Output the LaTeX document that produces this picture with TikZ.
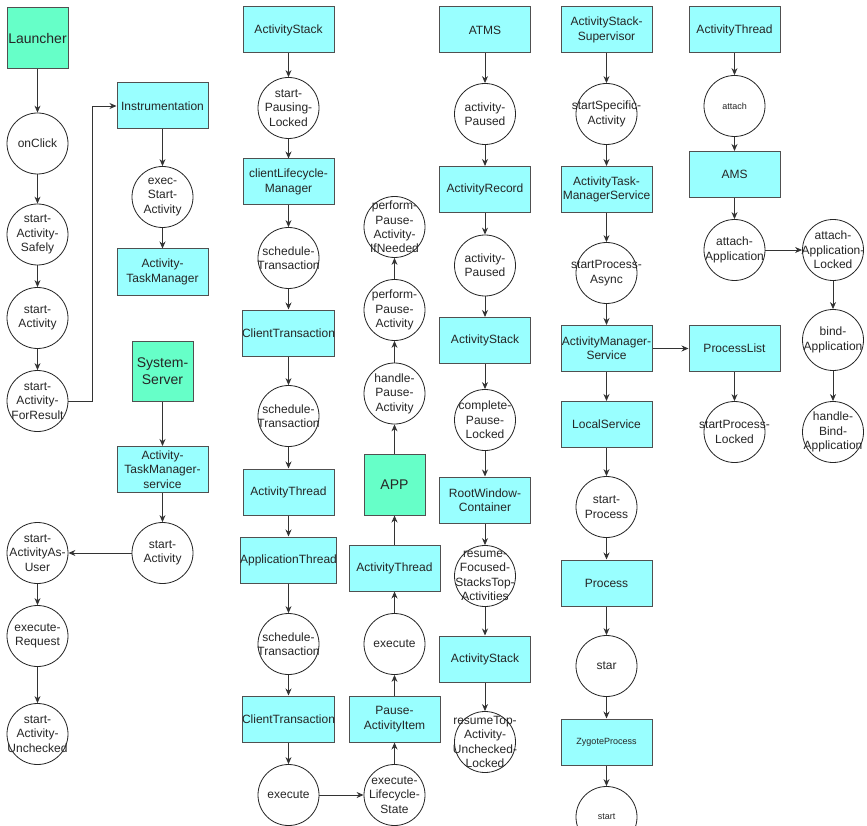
\documentclass[tikz,border=0pt]{standalone}
\usepackage{fontspec}
\setmainfont{Liberation Sans}
\usetikzlibrary{arrows.meta}
\definecolor{cyanfill}{RGB}{153,255,255}
\definecolor{greenfill}{RGB}{102,255,200}
\definecolor{boxline}{RGB}{80,80,80}
\newcommand\cnode[3]{\node[circ] (#1) at (#2) {};\node[ctext] at (#1.center) {#3};}
\newcommand\cnodesmall[3]{\node[circ] (#1) at (#2) {};\node[ctext,font=\fontsize{9}{10.8}\selectfont] at (#1.center) {#3};}
\begin{document}
\begin{tikzpicture}[x=1pt,y=-1pt,
 box/.style={draw=boxline, fill=cyanfill, line width=1pt, minimum width=91pt, minimum height=46pt, inner sep=0pt, align=center, font=\fontsize{12}{14.4}\selectfont, text=black!85},
 gbox/.style={box, fill=greenfill, minimum width=61pt, minimum height=61pt, font=\fontsize{14}{16.8}\selectfont},
 circ/.style={draw=black!85, fill=white, circle, minimum size=61pt, inner sep=0pt, line width=0.8pt},
 ctext/.style={align=center, font=\fontsize{12}{14.4}\selectfont, text=black!85, inner sep=0pt},
 arr/.style={draw=black!80, line width=0.9pt, -{Stealth[length=7pt,width=6pt]}},
]
\clip (0,0) rectangle (867,826);
\useasboundingbox (0,0) rectangle (867,826);
\fill[white] (0,0) rectangle (867,826);

% column 1/2
\node[gbox] (launcher) at (37.5,38) {Launcher};
\cnode{onclick}{37.5,143.5}{onClick}
\cnode{sas}{37.5,234.5}{start-\\Activity-\\Safely}
\cnode{sa}{37.5,318}{start-\\Activity}
\cnode{sfr}{37.5,401}{start-\\Activity-\\ForResult}
\node[box] (instr) at (162.5,106) {Instrumentation};
\cnode{esa}{162.5,197}{exec-\\Start-\\Activity}
\node[box] (atm) at (162.5,272) {Activity-\\TaskManager};
\node[gbox, minimum height=60pt] (ss) at (162.5,371) {System-\\Server};
\node[box] (atms1) at (162.5,469.5) {Activity-\\TaskManager-\\service};
\cnode{sa2}{162.5,553}{start-\\Activity}
\cnode{saau}{37.5,553}{start-\\ActivityAs-\\User}
\cnode{er}{37.5,636}{execute-\\Request}
\cnode{sau}{37.5,734}{start-\\Activity-\\Unchecked}

\draw[arr] (launcher) -- (onclick);
\draw[arr] (onclick) -- (sas);
\draw[arr] (sas) -- (sa);
\draw[arr] (sa) -- (sfr);
\coordinate (bend) at (92,401);
\draw[arr] (sfr.east) -- (bend) |- (instr.west);
\draw[arr] (instr) -- (esa);
\draw[arr] (esa) -- (atm);
\draw[arr] (ss) -- (atms1);
\draw[arr] (atms1) -- (sa2);
\draw[arr] (sa2) -- (saau);
\draw[arr] (saau) -- (er);
\draw[arr] (er) -- (sau);

% column 3
\node[box] (as1) at (288.5,30) {ActivityStack};
\cnode{spl}{288.5,108}{start-\\Pausing-\\Locked}
\node[box] (clm) at (288.5,182) {clientLifecycle-\\Manager};
\cnode{st1}{288.5,258}{schedule-\\Transaction}
\node[box] (ct1) at (288.5,333) {ClientTransaction};
\cnode{st2}{288.5,416}{schedule-\\Transaction}
\node[box] (at1) at (288.5,492) {ActivityThread};
\node[box] (apt) at (288.5,560) {ApplicationThread};
\cnode{st3}{288.5,644}{schedule-\\Transaction}
\node[box] (ct2) at (288.5,719) {ClientTransaction};
\cnode{ex1}{288.5,795}{execute}

\draw[arr] (as1) -- (spl);
\draw[arr] (spl) -- (clm);
\draw[arr] (clm) -- (st1);
\draw[arr] (st1) -- (ct1);
\draw[arr] (ct1) -- (st2);
\draw[arr] (st2) -- (at1);
\draw[arr] (at1) -- (apt);
\draw[arr] (apt) -- (st3);
\draw[arr] (st3) -- (ct2);
\draw[arr] (ct2) -- (ex1);

% column 4
\cnode{els}{394.5,795}{execute-\\Lifecycle-\\State}
\node[box] (pai) at (394.5,719) {Pause-\\ActivityItem};
\cnode{ex2}{394.5,644}{execute}
\node[box] (at2) at (394.5,568) {ActivityThread};
\node[gbox] (app) at (394.5,484.5) {APP};
\cnode{hpa}{394.5,393.5}{handle-\\Pause-\\Activity}
\cnode{ppa}{394.5,310}{perform-\\Pause-\\Activity}
\cnode{ppai}{394.5,227}{perform-\\Pause-\\Activity-\\IfNeeded}

\draw[arr] (ex1) -- (els);
\draw[arr] (els) -- (pai);
\draw[arr] (pai) -- (ex2);
\draw[arr] (ex2) -- (at2);
\draw[arr] (at2) -- (app);
\draw[arr] (app) -- (hpa);
\draw[arr] (hpa) -- (ppa);
\draw[arr] (ppa) -- (ppai);

% column 5
\node[box] (atms) at (485,30) {ATMS};
\cnode{ap1}{485,114}{activity-\\Paused}
\node[box] (ar) at (485,189.5) {ActivityRecord};
\cnode{ap2}{485,265.5}{activity-\\Paused}
\node[box] (as2) at (485,340.5) {ActivityStack};
\cnode{cpl}{485,420}{complete-\\Pause-\\Locked}
\node[box] (rwc) at (485,500) {RootWindow-\\Container};
\cnode{rfs}{485,576}{resume-\\Focused-\\StacksTop-\\Activities}
\node[box] (as3) at (485,659) {ActivityStack};
\cnode{rtau}{485,742}{resumeTop-\\Activity-\\Unchecked-\\Locked}

\draw[arr] (atms) -- (ap1);
\draw[arr] (ap1) -- (ar);
\draw[arr] (ar) -- (ap2);
\draw[arr] (ap2) -- (as2);
\draw[arr] (as2) -- (cpl);
\draw[arr] (cpl) -- (rwc);
\draw[arr] (rwc) -- (rfs);
\draw[arr] (rfs) -- (as3);
\draw[arr] (as3) -- (rtau);

% column 6
\node[box] (ass) at (606.5,30) {ActivityStack-\\Supervisor};
\cnode{ssa}{606.5,114}{startSpecific-\\Activity}
\node[box] (atmsv) at (606.5,189.5) {ActivityTask-\\ManagerService};
\cnode{spa}{606.5,273}{startProcess-\\Async}
\node[box] (ams) at (606.5,348.5) {ActivityManager-\\Service};
\node[box] (ls) at (606.5,424.5) {LocalService};
\cnode{sp}{606.5,507}{start-\\Process}
\node[box] (proc) at (606.5,583) {Process};
\cnode{star}{606.5,666}{star}
\node[box, font=\fontsize{9}{10.8}\selectfont] (zp) at (606.5,742) {ZygoteProcess};
\cnodesmall{start}{606.5,817}{start}

\draw[arr] (ass) -- (ssa);
\draw[arr] (ssa) -- (atmsv);
\draw[arr] (atmsv) -- (spa);
\draw[arr] (spa) -- (ams);
\draw[arr] (ams) -- (ls);
\draw[arr] (ls) -- (sp);
\draw[arr] (sp) -- (proc);
\draw[arr] (proc) -- (star);
\draw[arr] (star) -- (zp);
\draw[arr] (zp) -- (start);

% column 7
\node[box] (at3) at (734.5,30) {ActivityThread};
\cnodesmall{attach}{734.5,106}{attach}
\node[box] (amsb) at (734.5,174.5) {AMS};
\cnode{aa}{734.5,250}{attach-\\Application}
\cnode{aal}{833,250}{attach-\\Application-\\Locked}
\cnode{ba}{833,340}{bind-\\Application}
\cnode{hba}{833,432}{handle-\\Bind-\\Application}
\node[box] (pl) at (734.5,348.5) {ProcessList};
\cnode{spl2}{734.5,432}{startProcess-\\Locked}

\draw[arr] (at3) -- (attach);
\draw[arr] (attach) -- (amsb);
\draw[arr] (amsb) -- (aa);
\draw[arr] (aa) -- (aal);
\draw[arr] (aal) -- (ba);
\draw[arr] (ba) -- (hba);
\draw[arr] (ams) -- (pl);
\draw[arr] (pl) -- (spl2);
\end{tikzpicture}
\end{document}
